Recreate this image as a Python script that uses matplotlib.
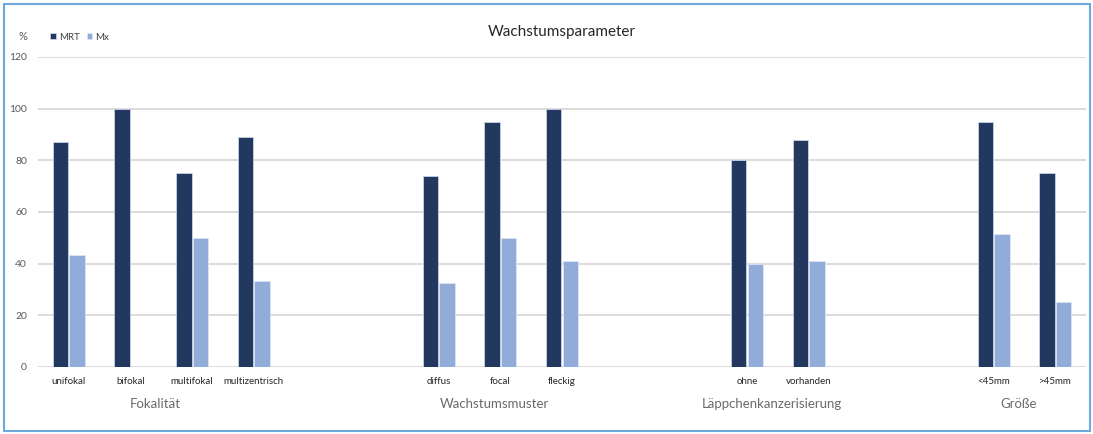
import numpy as np
import matplotlib
matplotlib.use("Agg")
import matplotlib.pyplot as plt
from matplotlib.patches import Rectangle

plt.rcParams['font.family'] = ['Lato', 'DejaVu Sans']

# Daten (in %), leere Kategorien trennen die Gruppen
categories = ['unifokal', 'bifokal', 'multifokal', 'multizentrisch', '', '',
              'diffus', 'focal', 'fleckig', '', '',
              'ohne', 'vorhanden', '', '',
              '<45mm', '>45mm']
mrt = [87, 100, 75, 89, None, None, 74, 95, 100, None, None, 80, 88, None, None, 95, 75]
mx = [43.5, 0, 50, 33.3, None, None, 32.7, 50, 41, None, None, 40, 41, None, None, 51.6, 25.2]
groups = ['Fokalität', 'Wachstumsmuster', 'Läppchenkanzerisierung', 'Größe']
group_members = [[0, 1, 2, 3], [6, 7, 8], [11, 12], [15, 16]]

c_mrt = '#22385f'
c_mx = '#92acd9'
grey = '#595959'

fig = plt.figure(figsize=(10.93, 4.34), dpi=100)
ax = fig.add_axes([0.0348, 0.1544, 0.9588, 0.7143])

x = np.arange(len(categories))
w = 0.25
off = 0.135
mrt_v = np.array([np.nan if v is None else v for v in mrt], dtype=float)
mx_v = np.array([np.nan if v is None else v for v in mx], dtype=float)
ax.bar(x - off, mrt_v, w, color=c_mrt, edgecolor='#c8d3e6', linewidth=0.6, label='MRT', zorder=3)
ax.bar(x + off, mx_v, w, color=c_mx, edgecolor='#dbe4f3', linewidth=0.6, label='Mx', zorder=3)

ax.set_xlim(-0.5, len(categories) - 0.5)
ax.set_ylim(0, 120)
ax.set_yticks(np.arange(0, 121, 20))
ax.yaxis.grid(True, color='#d9d9d9', linewidth=1.3, zorder=0)
ax.set_axisbelow(True)
for s in ax.spines.values():
    s.set_visible(False)
ax.tick_params(axis='y', length=0, labelsize=7.5, labelcolor=grey, pad=8)
ax.set_xticks(x)
ax.set_xticklabels(categories, fontsize=7, color='#262626')
ax.tick_params(axis='x', length=0, pad=7)

# Gruppenbeschriftungen
for name, members in zip(groups, group_members):
    ax.text(np.mean(members) - 0.1, -14.5, name, ha='center', va='center',
            fontsize=9.5, color='#6a6a6a')

ax.set_title('Wachstumsparameter', fontsize=11, color='#262626', pad=15)
fig.text(0.021, 0.915, '%', fontsize=8, color=grey, ha='center', va='center')

leg = fig.legend(loc='upper left', bbox_to_anchor=(0.038, 0.945), ncol=2, frameon=False,
                 fontsize=7, handlelength=0.6, handleheight=0.6, handletextpad=0.3,
                 columnspacing=0.7, labelcolor='#404040')

# Rahmen
fig.patches.append(Rectangle((0.004, 0.006), 0.993, 0.985, transform=fig.transFigure,
                             fill=False, edgecolor='#6fa8dc', linewidth=1.5))

fig.savefig('out.png', dpi=100)
